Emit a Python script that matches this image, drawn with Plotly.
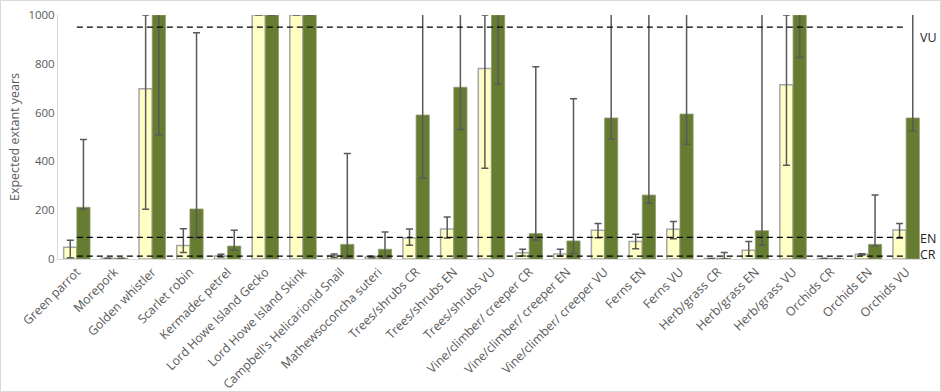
import plotly.graph_objects as go

categories = [
    "Green parrot", "Morepork", "Golden whistler", "Scarlet robin", "Kermadec petrel",
    "Lord Howe Island Gecko", "Lord Howe Island Skink", "Campbell's Helicarionid Snail",
    "Mathewsoconcha suteri", "Trees/shrubs CR", "Trees/shrubs EN", "Trees/shrubs VU",
    "Vine/climber/ creeper CR", "Vine/climber/ creeper EN", "Vine/climber/ creeper VU",
    "Ferns EN", "Ferns VU", "Herb/grass CR", "Herb/grass EN", "Herb/grass VU",
    "Orchids CR", "Orchids EN", "Orchids VU",
]

# first series (pale yellow)
yellow_vals = [48, 3, 698, 55, 12, 1000, 1000, 14, 8, 86, 123, 781, 26, 20, 118, 72, 122, 2, 36, 714, 2, 19, 119]
yellow_hi = [77, None, 1000, 124, 19, None, None, 20, 11, 123, 172, 1000, 40, 40, 145, 101, 154, None, 72, 1000, None, 22, 146]
yellow_lo = [5, None, 204, 27, 8, None, None, 6, 5, 56, 86, 372, 12, 12, 87, 42, 83, None, 12, 384, None, 16, 85]

# second series (olive green)
green_vals = [212, 3, 1000, 205, 53, 1000, 1000, 60, 40, 590, 704, 1000, 104, 74, 578, 262, 594, 3, 116, 1000, 2, 60, 578]
green_hi = [490, None, 1100, 927, 118, None, None, 432, 111, 1100, 1100, 1100, 788, 657, 1100, 1100, 1100, 27, 1100, 1100, None, 262, 1100]
green_lo = [205, None, 508, 87, 36, None, None, 5, 5, 332, 531, 716, 78, 23, 492, 228, 470, 0, 56, 826, None, 53, 525]

# threshold lines
thresholds = {"VU": 950, "EN": 89, "CR": 12}
threshold_label_y = {"VU": 906, "EN": 82, "CR": 20}


def plus(vals, hi):
    return [None if h is None else h - v for v, h in zip(vals, hi)]


def minus(vals, lo):
    return [None if l is None else v - l for v, l in zip(vals, lo)]


err_style = dict(color="#595959", thickness=1.5, width=3.5, visible=True, type="data", symmetric=False)

fig = go.Figure()
fig.add_trace(go.Bar(
    x=categories, y=yellow_vals,
    marker=dict(color="#FFFFC4", line=dict(color="#A6A6A6", width=1.5)),
    error_y=dict(array=plus(yellow_vals, yellow_hi), arrayminus=minus(yellow_vals, yellow_lo), **err_style),
    showlegend=False,
))
fig.add_trace(go.Bar(
    x=categories, y=green_vals,
    marker=dict(color="#657C31", line=dict(color="#8E9C72", width=0.8)),
    error_y=dict(array=plus(green_vals, green_hi), arrayminus=minus(green_vals, green_lo), **err_style),
    showlegend=False,
))

for name, val in thresholds.items():
    fig.add_trace(go.Scatter(
        x=[categories[0], categories[-1]], y=[val, val], mode="lines",
        line=dict(color="black", width=1.3, dash="6px,4px"),
        showlegend=False, hoverinfo="skip",
    ))
    fig.add_annotation(
        x=0.992, xref="paper", y=threshold_label_y[name], yref="y",
        text=name, showarrow=False, xanchor="left", yanchor="middle",
        font=dict(family="Open Sans", size=12.5, color="#262626"),
    )

L, R, T, B = 58, 16, 15, 133
W, H = 941, 392
pw, ph = W - L - R, H - T - B
fig.add_shape(
    type="rect", xref="paper", yref="paper",
    x0=(0.5 - L) / pw, x1=(W - 0.5 - L) / pw,
    y0=(ph + T - (H - 0.5)) / ph, y1=(ph + T - 0.5) / ph,
    line=dict(color="#D9D9D9", width=1), fillcolor="rgba(0,0,0,0)", layer="below",
)

fig.update_layout(
    width=W, height=H,
    margin=dict(l=L, r=R, t=T, b=B, autoexpand=False),
    paper_bgcolor="white", plot_bgcolor="white",
    barmode="group", bargap=0.3, bargroupgap=0,
    font=dict(family="Open Sans", color="#595959"),
)
fig.update_xaxes(
    tickangle=-45, tickfont=dict(size=12.3, color="#595959"),
    showline=True, linecolor="#D9D9D9", linewidth=1, ticks="", showgrid=False,
)
fig.update_yaxes(
    range=[0, 1000], tickvals=[0, 200, 400, 600, 800, 1000],
    tickfont=dict(size=11.5, color="#595959"),
    showline=True, linecolor="#D9D9D9", linewidth=1, showgrid=False, ticks="", zeroline=False,
    title=dict(text="Expected extant years", font=dict(size=12.5, color="#595959"), standoff=6),
)

fig.write_html(
    "out.html",
    config={"displayModeBar": False},
    post_script="document.body.style.margin='0';document.body.style.overflow='hidden';",
)
